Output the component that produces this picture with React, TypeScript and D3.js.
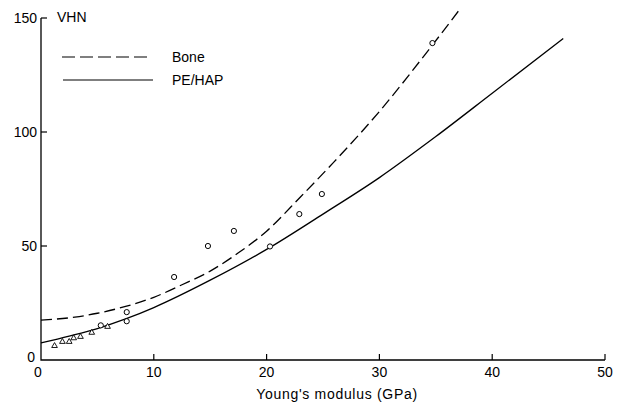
import React from "react";
import * as d3 from "d3";

const boneX = [0, 3, 5, 7.5, 10, 12.5, 15, 17.5, 20, 23, 26, 30, 34.6, 37];
const boneY = [17.5, 18.8, 20.5, 23.5, 27.5, 33, 39, 47, 56.5, 71.5, 87, 109, 137.5, 153];
const peX = [0, 2.5, 5, 7.5, 10, 15, 20, 25, 30, 35, 40, 46.3];
const peY = [7.5, 10.5, 13.8, 18, 23, 35, 48.5, 64, 80, 98, 117, 141];
const circleX = [34.7, 24.9, 22.9, 17.1, 14.8, 20.3, 11.8, 7.6, 7.6, 5.3];
const circleY = [139, 72.8, 64, 56.6, 50, 49.8, 36.4, 21, 17, 15.2];
const triX = [1.2, 1.9, 2.5, 2.9, 3.5, 4.5, 5.9];
const triY = [6.2, 8, 8, 9.6, 10.2, 12, 14.6];
const xTicks = [0, 10, 20, 30, 40, 50];
const yTicks = [0, 50, 100, 150];

export default function App() {
  const W = 621, H = 407;
  const x = d3.scaleLinear().domain([0, 50]).range([41, 605]);
  const y = d3.scaleLinear().domain([0, 150]).range([360, 18]);
  const line = d3
    .line<[number, number]>()
    .x((d) => x(d[0]))
    .y((d) => y(d[1]))
    .curve(d3.curveMonotoneX);
  const bone = boneX.map((v, i) => [v, boneY[i]] as [number, number]);
  const pe = peX.map((v, i) => [v, peY[i]] as [number, number]);
  const font = "'Liberation Sans', Arial, sans-serif";
  const tri = d3.symbol().type(d3.symbolTriangle).size(14)();
  return (
    <svg
      width={W}
      height={H}
      style={{ position: "absolute", left: 0, top: 0, background: "#fff" }}
      fontFamily={font}
    >
      <rect width={W} height={H} fill="#fff" />
      <path
        d={`M${x(0)},${y(150)}V${y(0)}H${x(50)}`}
        fill="none"
        stroke="#000"
        strokeWidth={1.3}
      />
      {yTicks.filter((t) => t > 0).map((t) => (
        <line key={"yt" + t} x1={x(0)} x2={x(0) + 6} y1={y(t)} y2={y(t)} stroke="#000" strokeWidth={1.2} />
      ))}
      {xTicks.filter((t) => t > 0).map((t) => (
        <line key={"xt" + t} x1={x(t)} x2={x(t)} y1={y(0)} y2={y(0) - 6} stroke="#000" strokeWidth={1.2} />
      ))}
      {yTicks.map((t) => (
        <text key={"yl" + t} x={t === 0 ? 35 : 37} y={y(t) + (t === 0 ? 2 : 5)} textAnchor="end" fontSize={14} fill="#000">
          {t}
        </text>
      ))}
      {xTicks.map((t) => (
        <text key={"xl" + t} x={x(t) - (t === 0 ? 3 : 0)} y={377} textAnchor="middle" fontSize={14} fill="#000">
          {t}
        </text>
      ))}
      <text x={57} y={22} fontSize={14} fill="#000">VHN</text>
      <text x={337} y={399} textAnchor="middle" fontSize={14} letterSpacing={0.7} fill="#000">
        Young's modulus (GPa)
      </text>
      <line x1={62} x2={150} y1={57} y2={57} stroke="#000" strokeWidth={1.2} strokeDasharray="13,5" />
      <line x1={63} x2={153} y1={80} y2={80} stroke="#000" strokeWidth={1.2} />
      <text x={172} y={62} fontSize={14} fill="#000">Bone</text>
      <text x={172} y={85} fontSize={14} fill="#000">PE/HAP</text>
      <path d={line(bone) || ""} fill="none" stroke="#000" strokeWidth={1.3} strokeDasharray="11,5" />
      <path d={line(pe) || ""} fill="none" stroke="#000" strokeWidth={1.3} />
      {circleX.map((v, i) => (
        <circle key={"c" + i} cx={x(v)} cy={y(circleY[i])} r={2.6} fill="#fff" stroke="#000" strokeWidth={1} />
      ))}
      {triX.map((v, i) => (
        <path key={"t" + i} d={tri || ""} transform={`translate(${x(v)},${y(triY[i])})`} fill="#fff" stroke="#000" strokeWidth={0.9} />
      ))}
    </svg>
  );
}
